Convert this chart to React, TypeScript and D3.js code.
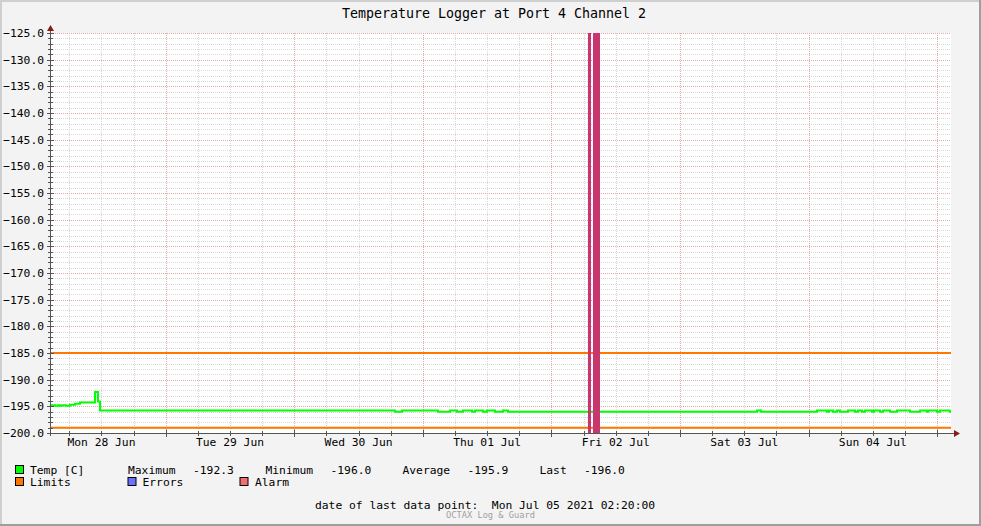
import React from "react";
import * as d3 from "d3";

const W = 981;
const H = 526;
const TITLE = "Temperature Logger at Port 4 Channel 2";
const DOMAIN = ["2021-06-28 02:35", "2021-07-05 02:35"];
const Y_DOMAIN = [-200, -125];
const Y_TICKS = [-200, -195, -190, -185, -180, -175, -170, -165, -160, -155, -150, -145, -140, -135, -130, -125];

const dayLabels = ["Mon 28 Jun", "Tue 29 Jun", "Wed 30 Jun", "Thu 01 Jul", "Fri 02 Jul", "Sat 03 Jul", "Sun 04 Jul"];
const dayLabelTimes = ["2021-06-28 12:00", "2021-06-29 12:00", "2021-06-30 12:00", "2021-07-01 12:00", "2021-07-02 12:00", "2021-07-03 12:00", "2021-07-04 12:00"];

const tempTimes = [
  "2021-06-28 02:35", "2021-06-28 03:20", "2021-06-28 03:53", "2021-06-28 04:15", "2021-06-28 04:38",
  "2021-06-28 05:23", "2021-06-28 06:08", "2021-06-28 07:04", "2021-06-28 08:00", "2021-06-28 10:48",
  "2021-06-28 11:21", "2021-06-28 11:44",
  "2021-06-30 18:48", "2021-06-30 20:06",
  "2021-07-01 02:49", "2021-07-01 05:04", "2021-07-01 06:22", "2021-07-01 07:29", "2021-07-01 09:10",
  "2021-07-01 09:44", "2021-07-01 11:13", "2021-07-01 11:58", "2021-07-01 13:28", "2021-07-01 14:57",
  "2021-07-01 15:53",
  "2021-07-03 14:22", "2021-07-03 15:07",
  "2021-07-04 01:34", "2021-07-04 03:26", "2021-07-04 03:49", "2021-07-04 04:33", "2021-07-04 05:18",
  "2021-07-04 05:52", "2021-07-04 07:21", "2021-07-04 08:40", "2021-07-04 09:13", "2021-07-04 09:58",
  "2021-07-04 10:32", "2021-07-04 11:50", "2021-07-04 12:13", "2021-07-04 13:20", "2021-07-04 13:53",
  "2021-07-04 15:12", "2021-07-04 16:30", "2021-07-04 18:56", "2021-07-04 20:48", "2021-07-04 22:06",
  "2021-07-04 22:17", "2021-07-04 23:58",
  "2021-07-05 00:32", "2021-07-05 02:20",
];
const tempValues = [
  -194.8, -194.9, -194.8, -194.9, -194.8,
  -194.9, -194.7, -194.5, -194.3, -192.3,
  -194.1, -195.8,
  -196.0, -195.8,
  -196.0, -195.8, -196.0, -195.8, -196.0,
  -195.8, -196.0, -195.8, -196.0, -195.8,
  -196.0,
  -195.8, -196.0,
  -195.8, -196.0, -195.8, -196.0, -195.8,
  -196.0, -195.8, -196.0, -195.8, -196.0,
  -195.8, -196.0, -195.8, -196.0, -195.8,
  -196.0, -195.8, -196.0, -195.8, -196.0,
  -195.8, -196.0,
  -195.8, -196.0,
];

const limitValues = [-185, -199];
const alarmStarts = ["2021-07-02 06:49", "2021-07-02 07:45"];
const alarmEnds = ["2021-07-02 07:23", "2021-07-02 09:04"];

const legendRow1 = [
  { text: "Temp [C]", x: 30 },
  { text: "Maximum", x: 128 },
  { text: "-192.3", x: 193 },
  { text: "Minimum", x: 265.5 },
  { text: "-196.0", x: 330.5 },
  { text: "Average", x: 402.5 },
  { text: "-195.9", x: 467.5 },
  { text: "Last", x: 539.5 },
  { text: "-196.0", x: 584 },
];
const legendRow2 = [
  { text: "Limits", x: 30, swatch: 15, color: "#FF7700" },
  { text: "Errors", x: 142.5, swatch: 127.5, color: "#7070FF" },
  { text: "Alarm", x: 255, swatch: 239.5, color: "#F07070" },
];

const FOOTER = "date of last data point:  Mon Jul 05 2021 02:20:00";
const WATERMARK = "OCTAX Log & Guard";

const parse = d3.timeParse("%Y-%m-%d %H:%M");
const MONO = "'DejaVu Sans Mono', 'Liberation Mono', monospace";

export default function App() {
  const x0 = 51, x1 = 951, yTop = 33, yBot = 433;
  const xs = d3.scaleTime().domain(DOMAIN.map((d) => parse(d) as Date)).range([x0, x1]);
  const ys = d3.scaleLinear().domain(Y_DOMAIN).range([yBot, yTop]);

  const [t0, t1] = xs.domain();
  const hourTicks = d3.timeHour.every(6)!.range(t0, d3.timeMinute.offset(t1, 1));
  const minorX = hourTicks.filter((d) => d.getHours() !== 0);
  const majorX = hourTicks.filter((d) => d.getHours() === 0);
  const minorY = d3.range(Y_DOMAIN[0], Y_DOMAIN[1] + 1, 1).filter((v) => v % 5 !== 0);

  const pts: [Date, number][] = tempTimes.map((t, i) => [parse(t) as Date, tempValues[i]]);
  const lineGen = d3
    .line<[Date, number]>()
    .x((d) => xs(d[0]))
    .y((d) => ys(d[1]))
    .curve(d3.curveStepAfter);
  const linePts: [Date, number][] = [...pts, [t1, pts[pts.length - 1][1]]];

  const snap = (v: number) => Math.round(v) + 0.5;

  return (
    <div style={{ position: "absolute", left: 0, top: 0 }}>
      <svg width={W} height={H} style={{ display: "block" }} fontFamily={MONO}>
        <rect x={0} y={0} width={W} height={H} fill="#F3F3F3" />
        {/* border */}
        <rect x={0} y={0} width={W} height={2} fill="#CFCFCF" />
        <rect x={0} y={0} width={2} height={H} fill="#CFCFCF" />
        <rect x={W - 2} y={0} width={2} height={H} fill="#9E9E9E" />
        <rect x={0} y={H - 2} width={W} height={2} fill="#9E9E9E" />

        <text x={494} y={18} textAnchor="middle" fontSize={13.3} fill="#000">
          {TITLE}
        </text>

        <rect x={x0} y={yTop} width={x1 - x0} height={yBot - yTop} fill="#FFFFFF" />

        {/* grid minor */}
        {minorY.map((v) => (
          <line key={"my" + v} x1={x0} x2={x1} y1={snap(ys(v))} y2={snap(ys(v))} stroke="#D8D8D8" strokeDasharray="1,1" strokeWidth={1} />
        ))}
        {minorX.map((d, i) => (
          <line key={"mx" + i} x1={snap(xs(d))} x2={snap(xs(d))} y1={yTop} y2={yBot} stroke="#D8D8D8" strokeDasharray="1,1" strokeWidth={1} />
        ))}
        {Y_TICKS.map((v) => (
          <line key={"My" + v} x1={x0} x2={x1} y1={snap(ys(v))} y2={snap(ys(v))} stroke="#E8A8A8" strokeDasharray="1,1" strokeWidth={1} />
        ))}
        {majorX.map((d, i) => (
          <line key={"Mx" + i} x1={snap(xs(d))} x2={snap(xs(d))} y1={yTop} y2={yBot} stroke="#E8A8A8" strokeDasharray="1,1" strokeWidth={1} />
        ))}

        {/* limits */}
        {limitValues.map((v) => (
          <line key={"lim" + v} x1={x0} x2={x1} y1={ys(v)} y2={ys(v)} stroke="#FF7700" strokeWidth={2} />
        ))}

        {/* temperature */}
        <path d={lineGen(linePts) || ""} fill="none" stroke="#00FF00" strokeWidth={2} />

        {/* alarm periods */}
        {alarmStarts.map((s, i) => {
          const a = xs(parse(s) as Date);
          const b = xs(parse(alarmEnds[i]) as Date);
          return <rect key={"al" + i} x={a} y={yTop} width={b - a} height={yBot - yTop} fill="#C8366F" />;
        })}

        {/* axes */}
        <line x1={50.5} x2={50.5} y1={yBot + 3} y2={yTop - 4} stroke="#555" strokeWidth={1} />
        <line x1={x0 - 3} x2={x1 + 5} y1={433.5} y2={433.5} stroke="#555" strokeWidth={1} />
        <path d={`M47,${yTop - 2} L54,${yTop - 2} L50.5,${yTop - 8} Z`} fill="#8B1A1A" />
        <path d={`M${x1 + 3},430 L${x1 + 3},437 L${x1 + 9},433.5 Z`} fill="#8B1A1A" />

        {minorY.map((v) => (
          <line key={"ty" + v} x1={48} x2={53} y1={snap(ys(v))} y2={snap(ys(v))} stroke="#555" strokeWidth={1} />
        ))}
        {Y_TICKS.map((v) => (
          <line key={"tY" + v} x1={47} x2={54} y1={snap(ys(v))} y2={snap(ys(v))} stroke="#555" strokeWidth={1} />
        ))}
        {minorX.map((d, i) => (
          <line key={"tx" + i} x1={snap(xs(d))} x2={snap(xs(d))} y1={431} y2={436} stroke="#555" strokeWidth={1} />
        ))}
        {majorX.map((d, i) => (
          <line key={"tX" + i} x1={snap(xs(d))} x2={snap(xs(d))} y1={430} y2={437} stroke="#555" strokeWidth={1} />
        ))}

        {/* y labels */}
        {Y_TICKS.map((v) => (
          <text key={"yl" + v} x={44} y={ys(v) + 4} textAnchor="end" fontSize={11.3} fill="#000">
            {d3.format(".1f")(v)}
          </text>
        ))}
        {/* x labels */}
        {dayLabels.map((lab, i) => (
          <text key={"xl" + i} x={xs(parse(dayLabelTimes[i]) as Date)} y={446} textAnchor="middle" fontSize={11.3} fill="#000">
            {lab}
          </text>
        ))}

        {/* legend */}
        <rect x={15.5} y={465.5} width={8} height={8} fill="#00FF00" stroke="#000" strokeWidth={1} />
        {legendRow1.map((d, i) => (
          <text key={"lg1" + i} x={d.x} y={474} fontSize={11.3} fill="#000">
            {d.text}
          </text>
        ))}
        {legendRow2.map((d, i) => (
          <g key={"lg2" + i}>
            <rect x={d.swatch + 0.5} y={477.5} width={8} height={8} fill={d.color} stroke="#000" strokeWidth={1} />
            <text x={d.x} y={486} fontSize={11.3} fill="#000">
              {d.text}
            </text>
          </g>
        ))}

        <text x={315} y={509} fontSize={11.3} fill="#000" style={{ whiteSpace: "pre" }}>
          {FOOTER}
        </text>
        <text x={490.5} y={517.5} textAnchor="middle" fontSize={8.7} fill="#A0A0A0">
          {WATERMARK}
        </text>
      </svg>
    </div>
  );
}
